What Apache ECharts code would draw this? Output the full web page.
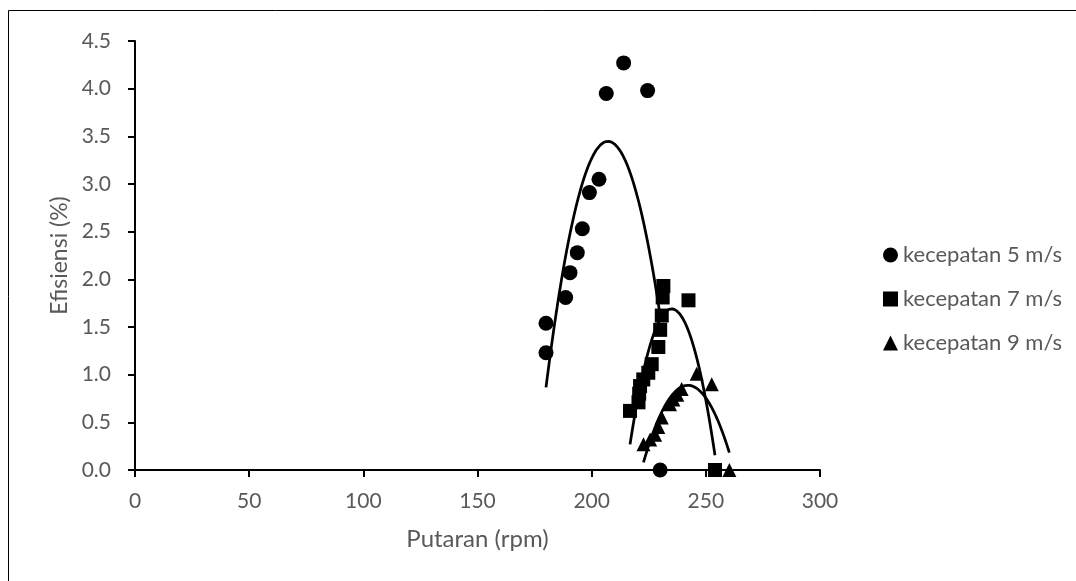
<!DOCTYPE html>
<html>
<head>
<meta charset="utf-8">
<script src="https://cdn.jsdelivr.net/npm/echarts@6/dist/echarts.min.js"></script>
<style>
html,body{margin:0;padding:0;background:#fff;}
#chart{width:1076px;height:581px;}
</style>
</head>
<body>
<div id="chart"></div>
<script>
// ---- data ----
var seriesNames = ['kecepatan 5 m/s', 'kecepatan 7 m/s', 'kecepatan 9 m/s'];

var rpm5 = [180.0, 180.0, 188.6, 190.5, 193.7, 195.9, 199.0, 203.2, 206.4, 214.0, 224.5, 230.0];
var eff5 = [1.54, 1.23, 1.81, 2.07, 2.28, 2.53, 2.91, 3.05, 3.95, 4.27, 3.98, 0.00];

var rpm7 = [216.8, 220.5, 220.8, 221.2, 222.6, 224.8, 226.3, 229.2, 230.0, 230.7, 231.1, 231.4, 242.4, 254.0];
var eff7 = [0.62, 0.71, 0.80, 0.88, 0.95, 1.02, 1.11, 1.29, 1.47, 1.62, 1.81, 1.93, 1.78, 0.00];

var rpm9 = [222.7, 225.6, 227.8, 229.2, 230.7, 234.3, 235.8, 237.5, 239.4, 246.0, 252.6, 260.3];
var eff9 = [0.27, 0.32, 0.37, 0.45, 0.55, 0.69, 0.74, 0.79, 0.85, 1.01, 0.90, 0.00];

var xTicks = [0, 50, 100, 150, 200, 250, 300];
var yTicks = [0, 0.5, 1.0, 1.5, 2.0, 2.5, 3.0, 3.5, 4.0, 4.5];

// ---- helpers ----
function pairs(xs, ys) { return xs.map(function (x, i) { return [x, ys[i]]; }); }

// least-squares 2nd order polynomial trendline (as in the spreadsheet trendline)
function polyFit2(xs, ys) {
  var n = xs.length, s = [0,0,0,0,0], t = [0,0,0];
  for (var i = 0; i < n; i++) {
    var x = xs[i], y = ys[i], p = 1;
    for (var k = 0; k < 5; k++) { s[k] += p; if (k < 3) t[k] += p * y; p *= x; }
  }
  var A = [[s[0],s[1],s[2],t[0]],[s[1],s[2],s[3],t[1]],[s[2],s[3],s[4],t[2]]];
  for (var c = 0; c < 3; c++) {
    var piv = c;
    for (var r = c+1; r < 3; r++) if (Math.abs(A[r][c]) > Math.abs(A[piv][c])) piv = r;
    var tmp = A[c]; A[c] = A[piv]; A[piv] = tmp;
    for (var r2 = 0; r2 < 3; r2++) {
      if (r2 === c) continue;
      var f = A[r2][c] / A[c][c];
      for (var k2 = c; k2 < 4; k2++) A[r2][k2] -= f * A[c][k2];
    }
  }
  return [A[0][3]/A[0][0], A[1][3]/A[1][1], A[2][3]/A[2][2]];
}
function trend(xs, ys) {
  var co = polyFit2(xs, ys);
  var lo = Math.min.apply(null, xs), hi = Math.max.apply(null, xs);
  var out = [], steps = 80;
  for (var i = 0; i <= steps; i++) {
    var x = lo + (hi - lo) * i / steps;
    out.push([x, co[0] + co[1]*x + co[2]*x*x]);
  }
  return out;
}

var textColor = '#595959';
var fontFam = 'Lato, "Open Sans", sans-serif';

function scatter(name, xs, ys, symbol, size) {
  return {
    name: name, type: 'scatter', data: pairs(xs, ys), symbol: symbol, symbolSize: size,
    itemStyle: { color: '#000', opacity: 1 }, z: 3
  };
}
function line(xs, ys) {
  return {
    type: 'line', data: trend(xs, ys), showSymbol: false, smooth: false,
    lineStyle: { color: '#000', width: 2.75 }, z: 2, silent: true
  };
}

var chart = echarts.init(document.getElementById('chart'), null, { renderer: 'canvas' });
chart.setOption({
  animation: false,
  backgroundColor: '#fff',
  graphic: [{
    type: 'rect', shape: { x: 8.5, y: 10.5, width: 1200, height: 800 },
    style: { fill: 'none', stroke: '#000', lineWidth: 1 }, z: -1
  }],
  grid: { left: 135, right: 256, top: 41, bottom: 111 },
  xAxis: {
    type: 'value', min: 0, max: 300, interval: 50,
    name: 'Putaran (rpm)', nameLocation: 'middle', nameGap: 57,
    nameTextStyle: { color: textColor, fontSize: 24, fontFamily: fontFam },
    axisLine: { show: true, onZero: false, lineStyle: { color: '#000', width: 2 } },
    axisTick: { show: true, inside: false, length: 7, lineStyle: { color: '#000', width: 2 } },
    axisLabel: { color: textColor, fontSize: 21, fontFamily: fontFam, margin: 21,
      formatter: function (v) { return xTicks.indexOf(v) >= 0 ? String(v) : ''; } },
    splitLine: { show: false }
  },
  yAxis: {
    type: 'value', min: 0, max: 4.5, interval: 0.5,
    name: 'Efisiensi (%)', nameLocation: 'middle', nameGap: 52, nameRotate: 90,
    nameTextStyle: { color: textColor, fontSize: 23, fontFamily: fontFam },
    axisLine: { show: true, onZero: false, lineStyle: { color: '#000', width: 2 } },
    axisTick: { show: true, inside: false, length: 7, lineStyle: { color: '#000', width: 2 } },
    axisLabel: { color: textColor, fontSize: 21, fontFamily: fontFam, margin: 24,
      formatter: function (v) { return yTicks.indexOf(v) >= 0 ? v.toFixed(1) : ''; } },
    splitLine: { show: false }
  },
  legend: {
    orient: 'vertical', left: 878, top: 239, itemGap: 22, itemWidth: 15, itemHeight: 15,
    textStyle: { color: textColor, fontSize: 22, fontFamily: fontFam, padding: [0,0,0,0] },
    data: [
      { name: seriesNames[0], icon: 'circle', itemStyle: { color: '#000', opacity: 1 } },
      { name: seriesNames[1], icon: 'rect', itemStyle: { color: '#000', opacity: 1 } },
      { name: seriesNames[2], icon: 'triangle', itemStyle: { color: '#000', opacity: 1 } }
    ]
  },
  series: [
    line(rpm5, eff5),
    line(rpm7, eff7),
    line(rpm9, eff9),
    scatter(seriesNames[0], rpm5, eff5, 'circle', 15),
    scatter(seriesNames[1], rpm7, eff7, 'rect', 14),
    scatter(seriesNames[2], rpm9, eff9, 'triangle', 14)
  ]
});
</script>
</body>
</html>
